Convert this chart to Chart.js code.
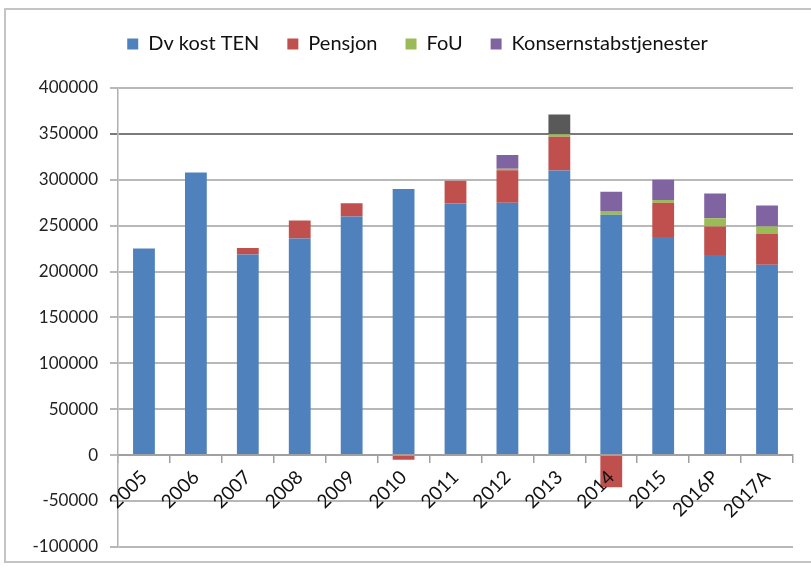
<!DOCTYPE html>
<html>
<head>
<meta charset="utf-8">
<script src="https://cdn.jsdelivr.net/npm/chart.js@4"></script>
<style>
  html, body { margin: 0; padding: 0; background: #fff; }
  #wrap { position: relative; width: 811px; height: 569px; overflow: hidden; }
  #frame { position: absolute; left: 4px; top: 8px; width: 900px; height: 555px; border: 2px solid #c4c4c4; box-sizing: border-box; }
  canvas { position: absolute; left: 0; top: 0; }
</style>
</head>
<body>
<div id="wrap">
  <div id="frame"></div>
  <canvas id="myChart" width="811" height="569"></canvas>
</div>
<script>
const years = ['2005', '2006', '2007', '2008', '2009', '2010', '2011', '2012', '2013', '2014', '2015', '2016P', '2017A'];
const dvKostTen = [225000, 308000, 218500, 236000, 260000, 290000, 274000, 275000, 310000, 262000, 237500, 218000, 207500];
const pensjon = [0, 0, 7000, 19500, 14500, -5000, 25000, 35500, 37000, -35000, 37500, 31000, 33500];
const fou = [0, 0, 0, 0, 0, 0, 0, 1500, 2500, 4000, 3000, 9000, 8000];
const konsernstab = [0, 0, 0, 0, 0, 0, 0, 15000, 500, 21000, 22000, 27000, 23000];
const annet = [0, 0, 0, 0, 0, 0, 0, 0, 21000, 0, 0, 0, 0]; // dark block on 2013, not in legend

// push the plot down below the legend, and nudge the legend a bit right
const legendTweak = {
  id: 'legendTweak',
  beforeInit(chart) {
    const legend = chart.legend;
    const fit = legend.fit;
    legend.fit = function () {
      fit.call(this);
      this.height += 24;
    };
    const draw = legend.draw;
    legend.draw = function () {
      chart.ctx.save();
      chart.ctx.translate(16, 0);
      draw.call(this);
      chart.ctx.restore();
    };
  }
};

const bar = (label, data, color) => ({
  label: label,
  data: data,
  backgroundColor: color,
  borderWidth: 0,
  categoryPercentage: 1,
  barPercentage: 0.42
});

const ctx = document.getElementById('myChart').getContext('2d');
new Chart(ctx, {
  type: 'bar',
  data: {
    labels: years,
    datasets: [
      bar('Dv kost TEN', dvKostTen, '#4f81bd'),
      bar('Pensjon', pensjon, '#c0504d'),
      bar('FoU', fou, '#9bbb59'),
      bar('Konsernstabstjenester', konsernstab, '#8064a2'),
      bar('Annet', annet, '#595959')
    ]
  },
  options: {
    responsive: false,
    animation: false,
    layout: { padding: { left: 10, right: 18, top: 6, bottom: 22 } },
    plugins: {
      tooltip: { enabled: false },
      legend: {
        position: 'top',
        labels: {
          filter: item => item.datasetIndex < 4,
          boxWidth: 11,
          boxHeight: 11,
          padding: 28,
          color: '#111',
          font: { family: 'Lato', size: 20 }
        }
      }
    },
    scales: {
      x: {
        stacked: true,
        position: { y: 0 },
        grid: {
          offset: true,
          drawOnChartArea: false,
          drawTicks: true,
          tickLength: 7,
          color: '#a0a0a0',
          lineWidth: 1.5
        },
        border: { display: true, color: '#a0a0a0', width: 2 },
        ticks: {
          z: 1,
          minRotation: 45,
          maxRotation: 45,
          padding: 4,
          color: '#111',
          font: { family: 'Lato', size: 19 }
        }
      },
      y: {
        stacked: true,
        min: -100000,
        max: 400000,
        afterFit(scale) { scale.width = 108; },
        grid: {
          color: ctx => ctx.tick && ctx.tick.value === 350000 ? '#7a7a7a' : '#b8b8b8',
          lineWidth: 2,
          tickLength: 8
        },
        border: { display: true, color: '#b0b0b0', width: 1.5 },
        ticks: {
          stepSize: 50000,
          padding: 12,
          color: '#222',
          font: { family: 'Lato', size: 17 },
          callback: value => String(value)
        }
      }
    }
  },
  plugins: [legendTweak]
});
</script>
</body>
</html>
